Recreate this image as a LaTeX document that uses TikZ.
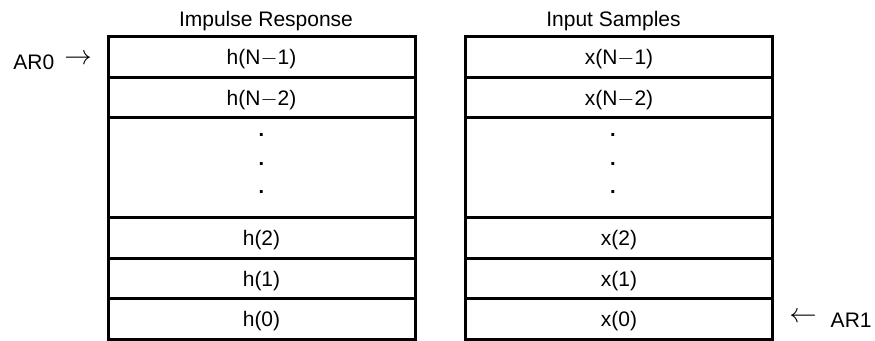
\documentclass[tikz,border=0pt]{standalone}
\usepackage{fontspec}
\setmainfont{Liberation Sans}
\usepackage{tikz}
\usetikzlibrary{positioning}
\tikzset{
  cell/.style = {draw, rectangle, line width=1.5pt, minimum width=153.5pt,
                 minimum height=20.25pt, inner sep=0pt, outer sep=0pt,
                 text height=7.5pt, text depth=0pt},
  gap/.style  = {cell, minimum height=50pt},
  dotc/.style = {anchor=base, inner sep=0pt, font=\bfseries},
  ttl/.style  = {anchor=base, inner sep=0pt},
  ptr/.style  = {inner sep=0pt},
}

\begin{document}
\begin{tikzpicture}[x=0.5pt, y=-0.5pt, font=\fontsize{10.5pt}{12.6pt}\selectfont]
  \useasboundingbox (0,0) rectangle (875,341);

  % impulse response
  \node[ttl] (thead) at (266,27) {Impulse Response};
  \node[cell, anchor=north] (h1) at (261.5,37) {h(N$-$1)};
  \node[cell, below=0pt of h1] (h2) {h(N$-$2)};
  \node[gap,  below=0pt of h2] (hgap) {};
  \node[cell, below=0pt of hgap] (hc) {h(2)};
  \node[cell, below=0pt of hc] (hb) {h(1)};
  \node[cell, below=0pt of hb] (ha) {h(0)};

  % input samples
  \node[ttl] (xhead) at (613.5,27) {Input Samples};
  \node[cell, anchor=north] (x1) at (619,37) {x(N$-$1)};
  \node[cell, below=0pt of x1] (x2) {x(N$-$2)};
  \node[gap,  below=0pt of x2] (xgap) {};
  \node[cell, below=0pt of xgap] (xc) {x(2)};
  \node[cell, below=0pt of xc] (xb) {x(1)};
  \node[cell, below=0pt of xb] (xa) {x(0)};

  \foreach \i/\dy in {1/9.5pt, 2/23.75pt, 3/38pt} {
    \node[dotc] (hd\i) at ([yshift=-\dy]hgap.north) {.};
    \node[dotc] (xd\i) at ([yshift=-\dy, xshift=-3pt]xgap.north) {.};
  }

  % pointers
  \node[ptr, anchor=base west] (ar0) at (13,70)
    {AR0\hspace{5pt}\raisebox{2.5pt}{\scalebox{1.25}{$\rightarrow$}}};
  \node[ptr, anchor=base east] (ar1) at (872,328)
    {\raisebox{2.5pt}{\scalebox{1.25}{$\leftarrow$}}\hspace{7pt}AR1};
\end{tikzpicture}
\end{document}
